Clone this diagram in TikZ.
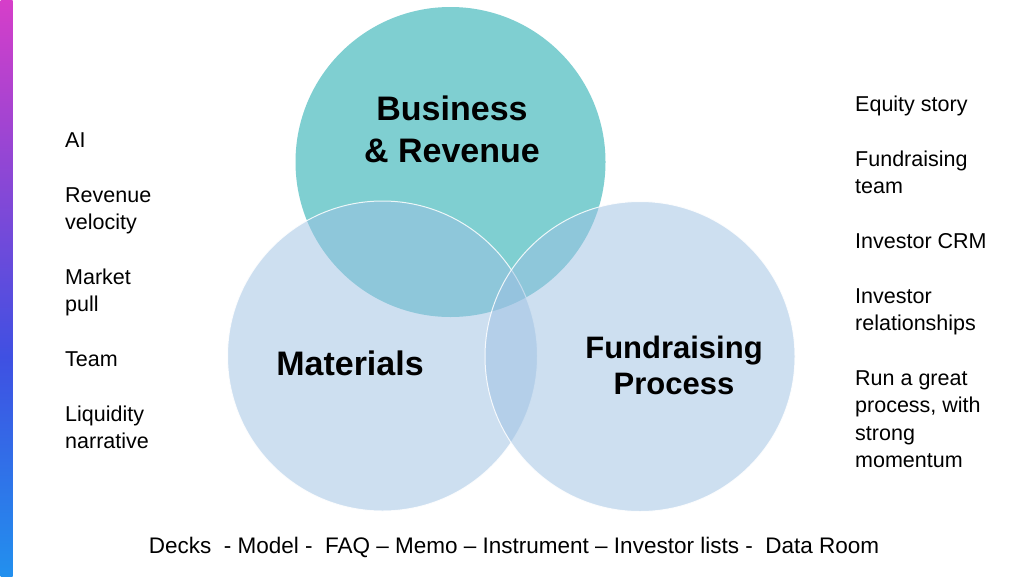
\documentclass[tikz,border=0pt]{standalone}
\usepackage{fontspec}
\setmainfont{Liberation Sans}
\usetikzlibrary{positioning}

\definecolor{bizteal}{HTML}{7FCFD1}
\definecolor{softblue}{HTML}{9DC1E3}
\definecolor{bartop}{HTML}{D63EC9}
\definecolor{barmid}{HTML}{3F50E2}
\definecolor{barbot}{HTML}{2290EE}
\pgfdeclareverticalshading{sidebar}{100bp}{color(0bp)=(barbot); color(25bp)=(barbot); color(44bp)=(barmid); color(75bp)=(bartop); color(100bp)=(bartop)}

\begin{document}
\begin{tikzpicture}[x=1pt,y=-1pt,
  bubble/.style={circle,inner sep=0pt,minimum size=310pt},
  softbubble/.style={bubble,fill=softblue,fill opacity=0.5,draw=white,draw opacity=0.85,line width=1pt},
  topic/.style={font=\bfseries\fontsize{34}{41.5}\selectfont,align=center},
  item/.style={font=\fontsize{21.5}{27.4}\selectfont,align=left,anchor=base west,inner sep=0pt}]
\fill[white] (0,0) rectangle (1024,576);
\useasboundingbox (0,0) rectangle (1024,576);
\shade[shading=sidebar] (0.5,0) rectangle (12.5,576);

% circles
\node[bubble,fill=bizteal] (biz) at (450.5,162) {};
\node[softbubble] (mat) at (382.5,356) {};
\node[softbubble] (fund) at (640,356.5) {};

\node[topic] (bizlabel) at (452,129.5) {Business\\\& Revenue};
\node[topic] (matlabel) at (350,363.5) {Materials};
\node[topic,font=\bfseries\fontsize{31}{36}\selectfont] (fundlabel) at (674,365) {Fundraising\\Process};

% left list (base = last line of each node)
\node[item] (ai) at (65,147.5) {AI};
\node[item,below=82.2pt of ai.base west,anchor=base west] (velocity) {Revenue\\velocity};
\node[item,below=82.2pt of velocity.base west,anchor=base west] (pull) {Market\\pull};
\node[item,below=54.8pt of pull.base west,anchor=base west] (team) {Team};
\node[item,below=82.2pt of team.base west,anchor=base west] (liquidity) {Liquidity\\narrative};

% right list
\node[item] (equity) at (855,111.5) {Equity story};
\node[item,below=82.2pt of equity.base west,anchor=base west] (fundteam) {Fundraising\\team};
\node[item,below=54.8pt of fundteam.base west,anchor=base west] (crm) {Investor CRM};
\node[item,below=82.2pt of crm.base west,anchor=base west] (relations) {Investor\\relationships};
\node[item,below=137pt of relations.base west,anchor=base west] (momentum) {Run a great\\process, with\\strong\\momentum};

\node[item,font=\fontsize{22.5}{27.4}\selectfont,anchor=base] (strip) at (514,553) {Decks\ \ - Model -\ \ FAQ -- Memo -- Instrument -- Investor lists -\ \ Data Room};
\end{tikzpicture}
\end{document}
